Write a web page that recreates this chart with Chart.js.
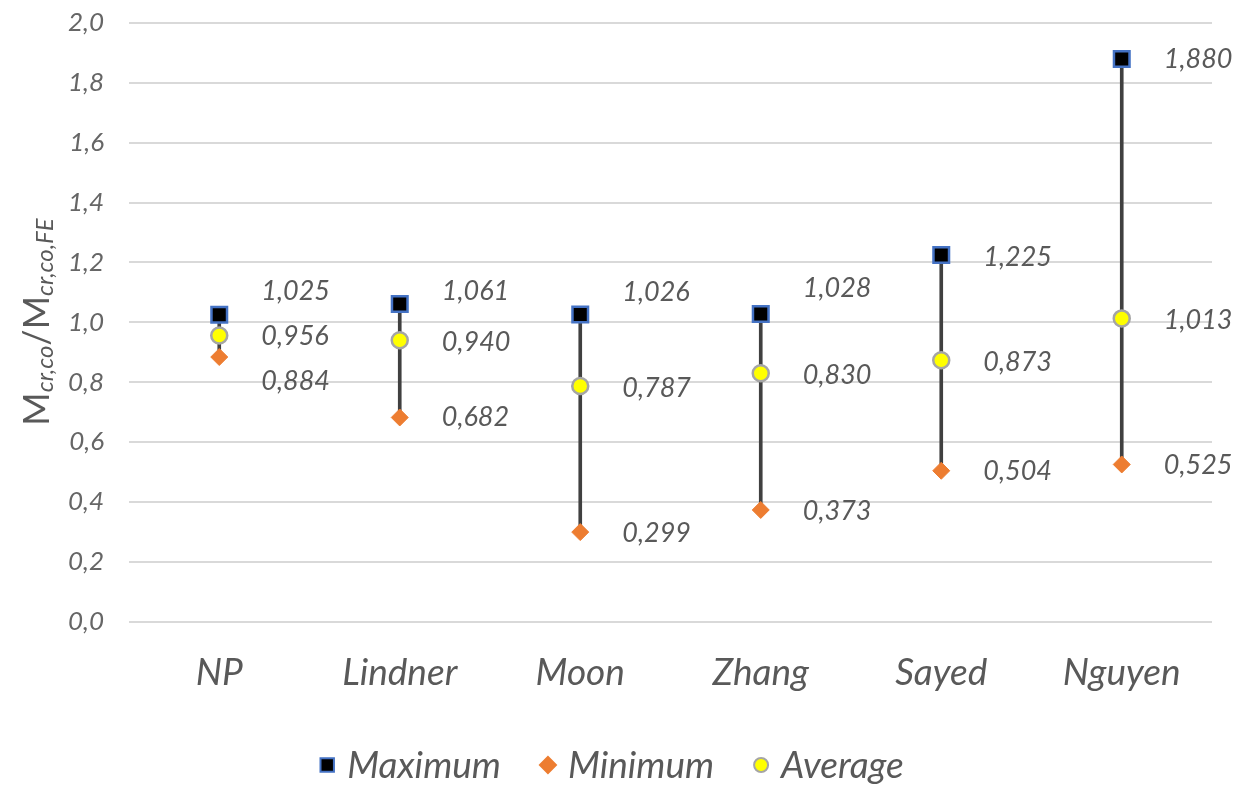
<!DOCTYPE html>
<html>
<head>
<meta charset="utf-8">
<script src="https://cdn.jsdelivr.net/npm/chart.js@4.4.1/dist/chart.umd.min.js"></script>
<style>
  html, body { margin: 0; padding: 0; background: #fff; }
  #wrap { width: 1240px; height: 790px; }
</style>
</head>
<body>
<div id="wrap"><canvas id="chart" width="1240" height="790"></canvas></div>
<script>
// data
const categories = ['NP', 'Lindner', 'Moon', 'Zhang', 'Sayed', 'Nguyen'];
const maxValues = [1.025, 1.061, 1.026, 1.028, 1.225, 1.880];
const minValues = [0.884, 0.682, 0.299, 0.373, 0.504, 0.525];
const avgValues = [0.956, 0.940, 0.787, 0.830, 0.873, 1.013];
const yTicks = [0.0, 0.2, 0.4, 0.6, 0.8, 1.0, 1.2, 1.4, 1.6, 1.8, 2.0];

const FONT = 'Lato';
const GREY = '#595959';

const fmt = (v, d) => v.toFixed(d).replace('.', ',');

// vertical nudges (px) for the value labels, like dragged Excel labels
const labelNudge = {
    Maximum: [-24, -13, -22, -26, 2, 0],
    Average: [1, 2, 2, 2, 2, 2],
    Minimum: [24, 0, 1, 1, 1, 1]
};

const valueLabels = {
    id: 'valueLabels',
    afterDatasetsDraw(chart) {
        const ctx = chart.ctx;
        ctx.save();
        ctx.font = 'italic 27px ' + FONT;
        ctx.fillStyle = GREY;
        ctx.textAlign = 'left';
        ctx.textBaseline = 'middle';
        chart.data.datasets.forEach((ds, i) => {
            if (!labelNudge[ds.label]) return;
            const meta = chart.getDatasetMeta(i);
            meta.data.forEach((pt, j) => {
                ctx.fillText(fmt(ds.data[j], 3), pt.x + 42, pt.y + labelNudge[ds.label][j]);
            });
        });
        ctx.restore();
    }
};

// rotated y title with subscripts
const yTitle = {
    id: 'yTitle',
    afterDraw(chart) {
        const ctx = chart.ctx;
        const parts = [
            { t: 'M', f: '36px ' + FONT, dy: 0 },
            { t: 'cr,co', f: 'italic 24px ' + FONT, dy: 8 },
            { t: '/', f: '36px ' + FONT, dy: 0 },
            { t: 'M', f: '36px ' + FONT, dy: 0 },
            { t: 'cr,co,FE', f: 'italic 24px ' + FONT, dy: 8 }
        ];
        ctx.save();
        let total = 0;
        parts.forEach(p => { ctx.font = p.f; p.w = ctx.measureText(p.t).width; total += p.w; });
        ctx.translate(37, 322);
        ctx.rotate(-Math.PI / 2);
        ctx.fillStyle = GREY;
        ctx.textBaseline = 'middle';
        ctx.textAlign = 'left';
        let x = -total / 2;
        parts.forEach(p => {
            ctx.font = p.f;
            ctx.fillText(p.t, x, p.dy);
            x += p.w;
        });
        ctx.restore();
    }
};

// legend drawn below the x labels, markers via Chart.js point helper
const bottomLegend = {
    id: 'bottomLegend',
    afterDraw(chart) {
        const ctx = chart.ctx;
        const items = chart.data.datasets.filter(ds => labelNudge[ds.label]);
        const y = 765, gap = 13, space = 40, box = 14;
        ctx.save();
        ctx.font = 'italic 37px ' + FONT;
        const widths = items.map(ds => box + gap + ctx.measureText(ds.label).width);
        const total = widths.reduce((a, b) => a + b, 0) + space * (items.length - 1);
        let x = 612 - total / 2;
        items.forEach((ds, i) => {
            ctx.fillStyle = ds.pointBackgroundColor;
            ctx.strokeStyle = ds.pointBorderColor;
            ctx.lineWidth = 2;
            Chart.helpers.drawPoint(ctx, {
                pointStyle: ds.pointStyle,
                radius: ds.legendRadius,
                borderWidth: 2
            }, x + box / 2, y);
            ctx.fillStyle = GREY;
            ctx.textBaseline = 'middle';
            ctx.textAlign = 'left';
            ctx.fillText(ds.label, x + box + gap, y + 1);
            x += widths[i] + space;
        });
        ctx.restore();
    }
};

const ctx = document.getElementById('chart').getContext('2d');
new Chart(ctx, {
    data: {
        labels: categories,
        datasets: [
            {
                type: 'bar',
                label: 'range',
                data: categories.map((c, i) => [minValues[i], maxValues[i]]),
                backgroundColor: '#404040',
                barThickness: 3,
                order: 10
            },
            {
                type: 'line',
                label: 'Maximum',
                data: maxValues,
                showLine: false,
                pointStyle: 'rect',
                pointRadius: 11,
                legendRadius: 9.5,
                pointBackgroundColor: '#000000',
                pointBorderColor: '#4472C4',
                pointBorderWidth: 2.5,
                order: 1
            },
            {
                type: 'line',
                label: 'Minimum',
                data: minValues,
                showLine: false,
                pointStyle: 'rectRot',
                pointRadius: 8.5,
                legendRadius: 8,
                pointBackgroundColor: '#ED7D31',
                pointBorderColor: '#ED7D31',
                pointBorderWidth: 1,
                order: 2
            },
            {
                type: 'line',
                label: 'Average',
                data: avgValues,
                showLine: false,
                pointStyle: 'circle',
                pointRadius: 8,
                legendRadius: 7,
                pointBackgroundColor: '#FFFF00',
                pointBorderColor: '#A5A5A5',
                pointBorderWidth: 2.5,
                order: 0
            }
        ]
    },
    options: {
        responsive: false,
        animation: false,
        layout: { padding: { left: 43, right: 28, top: 23, bottom: 66 } },
        plugins: {
            tooltip: { enabled: false },
            legend: { display: false }
        },
        scales: {
            x: {
                grid: { display: false, drawTicks: false },
                border: { display: false },
                ticks: {
                    color: GREY,
                    padding: 29,
                    font: { family: FONT, size: 37, style: 'italic' }
                }
            },
            y: {
                min: 0,
                max: 2,
                afterBuildTicks: axis => { axis.ticks = yTicks.map(v => ({ value: v })); },
                // tick padding would otherwise push the plot top down too
                afterFit: axis => { axis.paddingTop = 0; },
                grid: { color: '#d9d9d9', lineWidth: 2, drawTicks: false },
                border: { display: false },
                ticks: {
                    color: '#666666',
                    padding: 25,
                    font: { family: FONT, size: 26, style: 'italic' },
                    callback: v => fmt(v, 1)
                }
            }
        }
    },
    plugins: [valueLabels, yTitle, bottomLegend]
});
</script>
</body>
</html>
